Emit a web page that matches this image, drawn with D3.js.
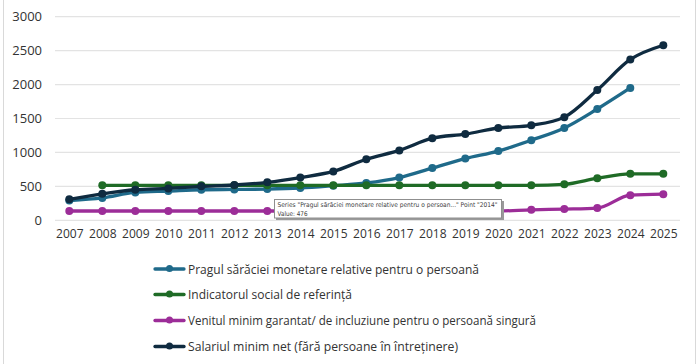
<!DOCTYPE html>
<html>
<head>
<meta charset="utf-8">
<script src="https://cdn.jsdelivr.net/npm/d3@7/dist/d3.min.js"></script>
<style>
  html, body { margin: 0; padding: 0; background: #fff; }
  svg { display: block; }
</style>
</head>
<body>
<svg id="chart" width="700" height="364"></svg>
<script>
const years = ["2007","2008","2009","2010","2011","2012","2013","2014","2015","2016","2017","2018","2019","2020","2021","2022","2023","2024","2025"];
const yTicks = [0, 500, 1000, 1500, 2000, 2500, 3000];

const pragul   = [290, 330, 410, 430, 450, 455, 460, 476, 510, 550, 630, 770, 910, 1020, 1180, 1360, 1640, 1950, null];
const isr      = [null, 515, 515, 515, 515, 515, 515, 515, 515, 515, 515, 515, 515, 515, 515, 530, 620, 685, 685];
const venit    = [137, 137, 137, 137, 137, 137, 137, 137, 137, 137, 137, 137, 137, 137, 155, 165, 180, 370, 385];
const salariul = [310, 390, 450, 470, 500, 520, 560, 630, 720, 900, 1030, 1210, 1270, 1360, 1400, 1520, 1920, 2370, 2580];

const seriesNames = [
  "Pragul sărăciei monetare relative pentru o persoană",
  "Indicatorul social de referință",
  "Venitul minim garantat/ de incluziune pentru o persoană singură",
  "Salariul minim net (fără persoane în întreținere)"
];
const seriesColors = ["#1f6a8a", "#1f6b26", "#9c2d98", "#0f2b40"];
const seriesData = [pragul, isr, venit, salariul];

const tooltipLine1 = 'Series "Pragul sărăciei monetare relative pentru o persoan..." Point "2014"';
const tooltipLine2 = "Value: 476";

const svg = d3.select("#chart");

// frame
svg.append("line").attr("x1", 3.5).attr("x2", 3.5).attr("y1", 0).attr("y2", 364).attr("stroke", "#d9d9d9");
svg.append("line").attr("x1", 695.5).attr("x2", 695.5).attr("y1", 0).attr("y2", 364).attr("stroke", "#d9d9d9");

const x = d3.scalePoint().domain(years).range([69.3, 663.3]);
const y = d3.scaleLinear().domain([0, 3000]).range([220.3, 16.7]);

// gridlines
svg.append("g").selectAll("line").data(yTicks).join("line")
  .attr("x1", 55).attr("x2", 680)
  .attr("y1", d => y(d)).attr("y2", d => y(d))
  .attr("stroke", "#e3e3e3").attr("stroke-width", 1.2);

// y axis labels
const yAxis = d3.axisLeft(y).tickValues(yTicks).tickSize(0).tickPadding(0).tickFormat(d3.format("d"));
const gy = svg.append("g").attr("transform", "translate(42,0)").call(yAxis);
gy.select(".domain").remove();
gy.selectAll("text").attr("font-family", "Open Sans, sans-serif").attr("font-size", 13).attr("fill", "#333");

// x axis labels
const xAxis = d3.axisBottom(x).tickSize(0).tickPadding(0);
const gx = svg.append("g").attr("transform", "translate(0,229)").call(xAxis);
gx.select(".domain").remove();
gx.selectAll("text").attr("font-family", "Open Sans, sans-serif").attr("font-size", 13).attr("fill", "#333")
  .attr("textLength", 27.5).attr("lengthAdjust", "spacingAndGlyphs");

// lines
const line = d3.line()
  .defined(d => d.v != null)
  .x(d => x(d.year)).y(d => y(d.v))
  .curve(d3.curveMonotoneX);

seriesData.forEach((arr, i) => {
  const pts = years.map((yr, j) => ({ year: yr, v: arr[j] }));
  svg.append("path").datum(pts)
    .attr("d", line)
    .attr("fill", "none")
    .attr("stroke", seriesColors[i])
    .attr("stroke-width", 3.3)
    .attr("stroke-linejoin", "round")
    .attr("stroke-linecap", "round");
  svg.append("g").selectAll("circle").data(pts.filter(d => d.v != null)).join("circle")
    .attr("cx", d => x(d.year)).attr("cy", d => y(d.v))
    .attr("r", 4).attr("fill", seriesColors[i]);
});

// legend
const legend = svg.append("g");
const legendY = [269, 294.5, 320.5, 346.5];
const legendW = [291, 164, 348, 270];
seriesNames.forEach((name, i) => {
  const g = legend.append("g").attr("transform", `translate(0,${legendY[i]})`);
  g.append("line").attr("x1", 155).attr("x2", 184).attr("y1", 0).attr("y2", 0)
    .attr("stroke", seriesColors[i]).attr("stroke-width", 3.3).attr("stroke-linecap", "round");
  g.append("circle").attr("cx", 169.5).attr("cy", -0.5).attr("r", 3.5).attr("fill", seriesColors[i]);
  g.append("text").attr("x", 188).attr("y", 0).attr("dy", "0.35em")
    .attr("font-family", "Open Sans, sans-serif").attr("font-size", 13.5).attr("fill", "#333")
    .attr("textLength", legendW[i]).attr("lengthAdjust", "spacingAndGlyphs")
    .text(name);
});

// tooltip
const tip = svg.append("g");
tip.append("rect").attr("x", 276).attr("y", 201).attr("width", 228).attr("height", 19).attr("fill", "#9a9a9a");
tip.append("rect").attr("x", 274.5).attr("y", 199.5).attr("width", 227).attr("height", 18.5)
  .attr("fill", "#fff").attr("stroke", "#8f8f8f").attr("stroke-width", 1);
tip.append("text").attr("x", 277.5).attr("y", 207).attr("font-family", "DejaVu Sans, sans-serif")
  .attr("font-size", 6.5).attr("fill", "#404040")
  .attr("textLength", 220).attr("lengthAdjust", "spacingAndGlyphs").text(tooltipLine1);
tip.append("text").attr("x", 277.5).attr("y", 215.5).attr("font-family", "DejaVu Sans, sans-serif")
  .attr("font-size", 6.5).attr("fill", "#404040")
  .attr("textLength", 30).attr("lengthAdjust", "spacingAndGlyphs").text(tooltipLine2);
</script>
</body>
</html>
